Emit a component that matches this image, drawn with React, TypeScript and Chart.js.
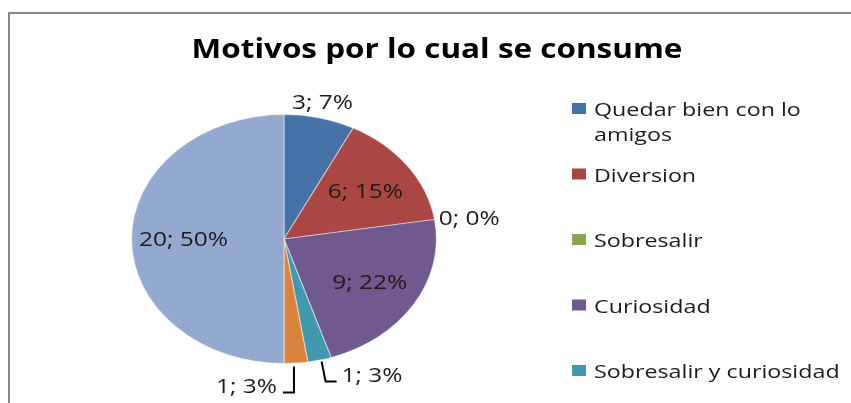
import React, { useEffect, useRef } from "react";
import { Chart, registerables } from "chart.js";

Chart.register(...registerables);

const chartTitle = "Motivos por lo cual se consume";
const categories = [
  "Quedar bien con lo amigos",
  "Diversion",
  "Sobresalir",
  "Curiosidad",
  "Sobresalir y curiosidad",
  "Presión de grupo",
  "Otros motivos",
];
const counts = [3, 6, 0, 9, 1, 1, 20];
const percents = [7, 15, 0, 22, 3, 3, 50];
const sliceColors = ["#4572A7", "#AA4643", "#89A54E", "#71588F", "#4198AF", "#DB843D", "#93A9CF"];

const FONT = '"Open Sans", "Noto Sans", sans-serif';
const SX = 1.224; // horizontal stretch of the original picture

function drawStretched(ctx: CanvasRenderingContext2D, text: string, x: number, y: number, align: "left" | "center" | "right", k = SX) {
  const w = ctx.measureText(text).width * k;
  let left = x;
  if (align === "center") left = x - w / 2;
  else if (align === "right") left = x - w;
  ctx.save();
  ctx.translate(left, y);
  ctx.scale(k, 1);
  ctx.textAlign = "left";
  ctx.textBaseline = "alphabetic";
  ctx.fillText(text, 0, 0);
  ctx.restore();
  return w;
}

function wrapText(ctx: CanvasRenderingContext2D, text: string, maxW: number) {
  const words = text.split(" ");
  const lines: string[] = [];
  let cur = "";
  for (const w of words) {
    const test = cur ? cur + " " + w : w;
    if (ctx.measureText(test).width * SX > maxW && cur) {
      lines.push(cur);
      cur = w;
    } else cur = test;
  }
  if (cur) lines.push(cur);
  return lines;
}

const excelLook = {
  id: "excelLook",
  beforeDraw(chart: any) {
    const ctx: CanvasRenderingContext2D = chart.ctx;
    ctx.save();
    ctx.fillStyle = "#ffffff";
    ctx.fillRect(0, 0, chart.width, chart.height);
    ctx.strokeStyle = "#868686";
    ctx.lineWidth = 2;
    ctx.strokeRect(9, 13, chart.width + 50, chart.height + 50);
    ctx.fillStyle = "#000000";
    ctx.font = `bold 26px ${FONT}`;
    drawStretched(ctx, chartTitle, 437, 58, "center", 1.21);
    ctx.restore();
  },
  beforeDatasetsDraw(chart: any) {
    const ctx: CanvasRenderingContext2D = chart.ctx;
    const el = chart.getDatasetMeta(0).data[0];
    const { x, y } = el.getProps(["x", "y"], true);
    ctx.save();
    ctx.translate(x, y);
    ctx.scale(SX, 1);
    ctx.translate(-x, -y);
  },
  afterDatasetsDraw(chart: any) {
    const ctx: CanvasRenderingContext2D = chart.ctx;
    ctx.restore();
    const total = counts.reduce((a, b) => a + b, 0);
    const meta = chart.getDatasetMeta(0);
    ctx.save();
    ctx.font = `20px ${FONT}`;
    ctx.fillStyle = "#1c1c1c";
    ctx.strokeStyle = "#000000";
    ctx.lineWidth = 2;
    const cap = 14;
    meta.data.forEach((el: any, i: number) => {
      const { x, y, startAngle, endAngle, outerRadius } = el.getProps(
        ["x", "y", "startAngle", "endAngle", "outerRadius"],
        true
      );
      const mid = (startAngle + endAngle) / 2;
      const c = Math.cos(mid);
      const s = Math.sin(mid);
      const text = `${counts[i]}; ${percents[i]}%`;
      const w = ctx.measureText(text).width * SX;
      const ex = x + c * outerRadius * SX;
      const ey = y + s * outerRadius;
      const frac = counts[i] / total;
      if (frac >= 0.1) {
        const lx = x + c * outerRadius * 0.66 * SX;
        const ly = y + s * outerRadius * 0.66;
        drawStretched(ctx, text, lx, ly + cap / 2, "center");
      } else if (i === 4 || i === 5) {
        const dir = i === 4 ? 1 : -1;
        const sx0 = ex + (i === 4 ? 2 : -2);
        const sy0 = ey + (i === 4 ? 1.5 : 3.5);
        const elx = ex + (i === 4 ? 6 : -2);
        const ely = ey + (i === 4 ? 21.5 : 29.5);
        const endx = elx + dir * 11;
        ctx.beginPath();
        ctx.moveTo(sx0, sy0);
        ctx.lineTo(elx, ely);
        ctx.lineTo(endx, ely);
        ctx.stroke();
        if (dir > 0) drawStretched(ctx, text, endx + 5, ely, "left");
        else drawStretched(ctx, text, endx - 6, ely, "right");
      } else {
        const lx = ex + c * (Math.abs(c) * w / 2 + 5);
        const ly = ey + s * (Math.abs(s) * cap / 2 + 10);
        drawStretched(ctx, text, lx, ly + cap / 2, "center");
      }
    });

    // legend
    ctx.font = `19px ${FONT}`;
    const boxX = 572;
    const textX = 594;
    const top0 = 103;
    const step = 65.5;
    categories.forEach((cat, i) => {
      const sqTop = top0 + i * step;
      ctx.fillStyle = sliceColors[i];
      ctx.fillRect(boxX, sqTop, 14, 11);
      ctx.fillStyle = "#1c1c1c";
      const lines = wrapText(ctx, cat, 250);
      lines.forEach((ln, j) => drawStretched(ctx, ln, textX, sqTop + 13 + j * 25, "left"));
    });
    ctx.restore();
  },
};

export default function App() {
  const ref = useRef<HTMLCanvasElement>(null);
  useEffect(() => {
    const chart = new Chart(ref.current as HTMLCanvasElement, {
      type: "pie",
      data: {
        labels: categories,
        datasets: [
          {
            data: counts,
            backgroundColor: sliceColors,
            borderColor: "rgba(255,255,255,0.45)",
            borderWidth: 1,
          },
        ],
      },
      options: {
        responsive: false,
        animation: false,
        devicePixelRatio: 1,
        layout: { padding: { top: 114, bottom: 39, left: 159, right: 442 } },
        plugins: {
          legend: { display: false },
          tooltip: { enabled: false },
          title: { display: false },
        },
      },
      plugins: [excelLook],
    } as any);
    return () => chart.destroy();
  }, []);
  return (
    <div style={{ position: "fixed", left: 0, top: 0, width: 851, height: 403, background: "#fff" }}>
      <canvas ref={ref} width={851} height={403} style={{ width: 851, height: 403, display: "block" }} />
    </div>
  );
}
